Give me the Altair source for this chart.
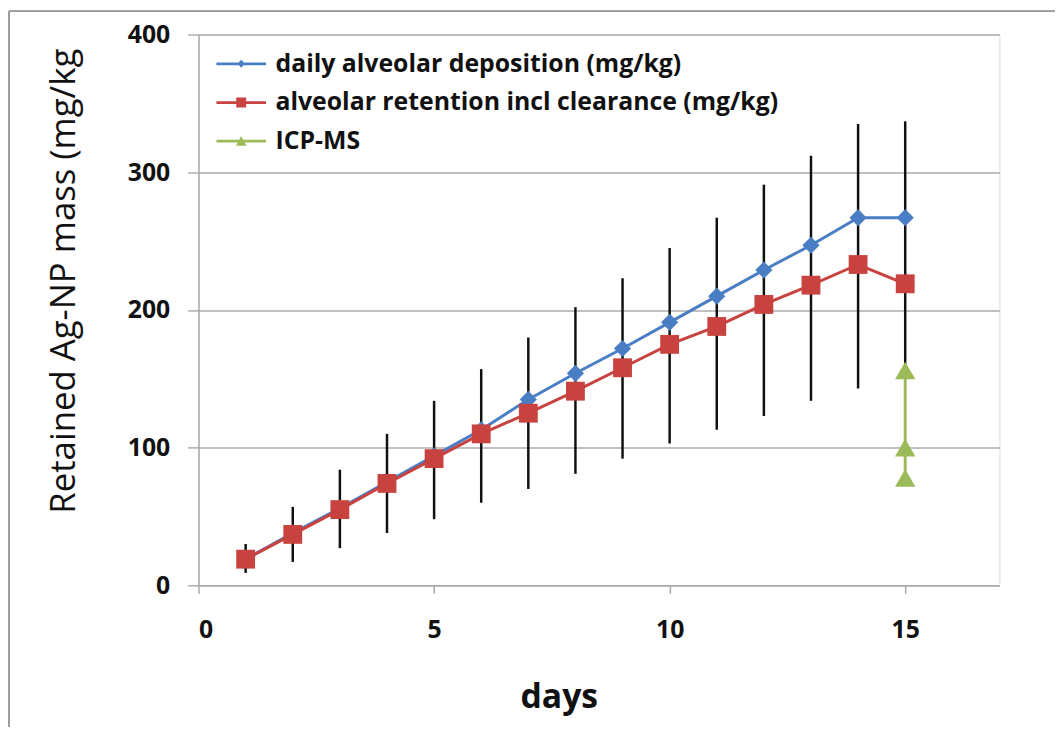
import altair as alt
import pandas as pd

# ---- data ----
days = list(range(1, 16))
deposition = [19, 38, 56, 75, 94, 113, 135, 154, 172, 191, 210, 229, 247, 267, 267]
retention = [19, 37, 55, 74, 92, 110, 125, 141, 158, 175, 188, 204, 218, 233, 219]
err_low = [9, 17, 27, 38, 48, 60, 70, 81, 92, 103, 113, 123, 134, 143, 158]
err_high = [30, 57, 84, 110, 134, 157, 180, 202, 223, 245, 267, 291, 312, 335, 337]
icp_days = [15, 15, 15]
icp_values = [156, 100, 78]

series_names = [
    "daily alveolar deposition (mg/kg)",
    " alveolar retention incl clearance (mg/kg)",
    "ICP-MS",
]
series_colors = ["#4A7EC4", "#C8423F", "#9BBB59"]

x_ticks = [0, 5, 10, 15]
y_ticks = [0, 100, 200, 300, 400]
x_title = "days"
y_title = "Retained Ag-NP mass (mg/kg"

# ---- styling ----
FONT = "Open Sans"
GRID = "#ababab"
TXT = "#111"

main = pd.DataFrame({"day": days, "dep": deposition, "ret": retention,
                     "lo": err_low, "hi": err_high})
icp = pd.DataFrame({"day": icp_days, "val": icp_values})
leg = pd.DataFrame({"series": series_names, "day": [0, 0, 0], "val": [0, 0, 0]})

x_scale = alt.Scale(domain=[0, 17], nice=False, zero=False)
y_scale = alt.Scale(domain=[0, 400], nice=False, zero=False)

x_axis = alt.Axis(values=x_ticks, grid=False, domainColor=GRID, domainWidth=1.5,
                  tickColor=GRID, tickWidth=1.5, tickSize=8,
                  labelFont=FONT, labelFontSize=25, labelFontWeight="bold",
                  labelColor=TXT, labelPadding=25,
                  titleFont=FONT, titleFontSize=34, titleFontWeight="bold",
                  titleColor=TXT, titleX=363, titleY=113,
                  titleBaseline="middle", titleAlign="center")
y_axis = alt.Axis(values=y_ticks, grid=True, gridColor=GRID, gridWidth=1.5,
                  domainColor=GRID, domainWidth=1.5,
                  tickColor=GRID, tickWidth=1.5, tickSize=11,
                  labelFont=FONT, labelFontSize=25, labelFontWeight="bold",
                  labelColor=TXT, labelPadding=18,
                  titleFont=FONT, titleFontSize=35, titleFontWeight=500,
                  titleColor=TXT, titleX=-136, titleY=248,
                  titleBaseline="middle", titleAlign="center", titleAngle=270)


def X():
    return alt.X("day:Q", scale=x_scale, axis=x_axis, title=x_title)


def Y(field):
    return alt.Y(field, type="quantitative", scale=y_scale, axis=y_axis, title=y_title)


base = alt.Chart(main)

errbars = base.mark_rule(color="#111", strokeWidth=2.5).encode(
    x=X(), y=Y("lo"), y2="hi")

dep_line = base.mark_line(color=series_colors[0], strokeWidth=3).encode(x=X(), y=Y("dep"))
dep_pts = base.mark_point(shape="diamond", filled=True, size=300, opacity=1,
                          color=series_colors[0]).encode(x=X(), y=Y("dep"))

ret_line = base.mark_line(color=series_colors[1], strokeWidth=3).encode(x=X(), y=Y("ret"))
ret_pts = base.mark_point(shape="square", filled=True, size=360, opacity=1,
                          color=series_colors[1]).encode(x=X(), y=Y("ret"))

icp_base = alt.Chart(icp)
icp_line = icp_base.mark_line(color=series_colors[2], strokeWidth=3).encode(
    x=X(), y=Y("val"), order=alt.Order("val:Q"))
icp_pts = icp_base.mark_point(shape="triangle-up", filled=True, size=420, opacity=1,
                              color=series_colors[2]).encode(x=X(), y=Y("val"))

# legend: custom symbols (line + marker) built from the scale domain
line_part = "M-2,-0.11L2,-0.11L2,0.11L-2,0.11Z "
paths = [
    line_part + "M0,-0.32L0.3,0L0,0.32L-0.3,0Z",
    line_part + "M-0.4,-0.4L0.4,-0.4L0.4,0.4L-0.4,0.4Z",
    line_part + "M0,-0.42L0.42,0.36L-0.42,0.36Z",
]
legend_def = alt.Legend(orient="none", legendX=30.5, legendY=17, padding=0,
                        symbolSize=625, symbolStrokeWidth=0, symbolOpacity=1,
                        labelFont=FONT, labelFontSize=25, labelFontWeight="bold",
                        labelColor=TXT, labelLimit=700, labelOffset=22,
                        rowPadding=13, title=None)
legend_layer = alt.Chart(leg).mark_point(filled=True, opacity=1, size=625).encode(
    x=X(), y=Y("val"),
    color=alt.Color("series:N", scale=alt.Scale(domain=series_names, range=series_colors),
                    legend=legend_def, title=None),
    shape=alt.Shape("series:N", scale=alt.Scale(domain=series_names, range=paths),
                    legend=legend_def, title=None),
).transform_filter("datum.day < 0")

# outer chart frame (top and left edges visible in the reference)
frame_top = alt.Chart(leg).mark_rule(stroke="#9a9a9a", strokeWidth=1.5, clip=False).encode(
    x=alt.value(-191), x2=alt.value(900), y=alt.value(-23.5))
frame_left = alt.Chart(leg).mark_rule(stroke="#9a9a9a", strokeWidth=1.5, clip=False).encode(
    x=alt.value(-191), y=alt.value(-23.5), y2=alt.value(800))

chart = alt.layer(
    frame_top, frame_left, errbars, dep_line, dep_pts, ret_line, ret_pts,
    icp_line, icp_pts, legend_layer
).properties(
    width=807, height=555,
    padding={"left": 192, "top": 24, "right": 56, "bottom": 140},
    autosize=alt.AutoSizeParams(type="none"),
).configure_view(stroke=None).configure(background="white")

chart.save("out.html", embed_options={"renderer": "svg", "actions": False})
